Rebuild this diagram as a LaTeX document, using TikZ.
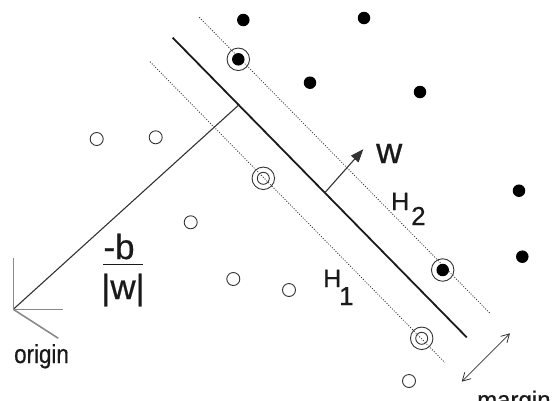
\documentclass[tikz,border=0pt]{standalone}
\usepackage{fontspec}
\setmainfont{Liberation Sans}[FakeBold=0.6]
\usetikzlibrary{arrows.meta}
\definecolor{ink}{HTML}{1A1A1A}
\definecolor{lin}{HTML}{333333}
\definecolor{axis}{HTML}{8A8A8A}
\tikzset{
  fdot/.style={circle,fill=black,inner sep=0pt,minimum size=12.5pt},
  odot/.style={circle,draw=lin,line width=0.9pt,inner sep=0pt,minimum size=13pt},
  ring/.style={circle,draw=lin,line width=0.9pt,inner sep=0pt,minimum size=22.5pt},
  hyper/.style={line width=1.8pt,draw=ink},
  marginline/.style={draw=lin,line width=0.8pt,dash pattern=on 1pt off 1.6pt},
  thinline/.style={draw=lin,line width=1.1pt},
  axisline/.style={draw=axis,line width=1.6pt},
  lbl/.style={inner sep=0pt,text=ink},
}
\begin{document}
\begin{tikzpicture}[x=1pt,y=-1pt]
\useasboundingbox (0,0) rectangle (552,400);
% named coordinates
\coordinate (M1) at (172.7,37.7);
\coordinate (M2) at (466.7,337.3);
\coordinate (H2a) at (199.3,17.3);
\coordinate (H2b) at (490,313.3);
\coordinate (H1a) at (150,61.7);
\coordinate (H1b) at (445,362.7);
\coordinate (O) at (13.3,309.3);
\coordinate (P) at (238.5,105.2);
\coordinate (Oy) at (13.3,258.3);
\coordinate (Ox) at (63.3,309.3);
\coordinate (Od) at (58.3,338.3);
\coordinate (Wa) at (325,192.5);
\coordinate (Wb) at (363.3,149.3);
\coordinate (Ma) at (461.7,381.7);
\coordinate (Mb) at (510,333.3);
% margin lines
\draw[marginline] (H2a) -- (H2b);
\draw[marginline] (H1a) -- (H1b);
% separating hyperplane
\draw[hyper] (M1) -- (M2);
% perpendicular from origin
\draw[thinline] (O) -- (P);
% origin axes
\draw[axisline] (Oy) -- (O) -- (Ox);
\draw[axisline] (O) -- (Od);
% w arrow
\draw[thinline,-{Triangle[length=13pt,width=10pt]}] (Wa) -- (Wb);
% margin arrow
\draw[draw=lin,line width=0.8pt,{Straight Barb[length=8pt,width=9pt]}-{Straight Barb[length=8pt,width=9pt]}] (Ma) -- (Mb);
% filled points
\node[fdot] (f1) at (243.3,20) {};
\node[fdot] (f2) at (364,18) {};
\node[fdot] (f3) at (310,82.7) {};
\node[fdot] (f4) at (420,92) {};
\node[fdot] (f5) at (519,190.7) {};
\node[fdot] (f6) at (522.3,256.7) {};
\node[fdot] (s1) at (238.3,59.3) {};
\node[ring] (s1r) at (238.3,59.3) {};
\node[fdot] (s2) at (442.7,270) {};
\node[ring] (s2r) at (442.7,270) {};
% open points
\node[odot] (o1) at (96.7,139) {};
\node[odot] (o2) at (155.7,137.3) {};
\node[odot] (o3) at (190.7,222.3) {};
\node[odot] (o4) at (233.3,279) {};
\node[odot] (o5) at (289,290) {};
\node[odot] (o6) at (409,381) {};
\node[odot,minimum size=12pt] (s3) at (263.3,178.3) {};
\node[ring] (s3r) at (263.3,178.3) {};
\node[odot,minimum size=12pt] (s4) at (421.7,338.3) {};
\node[ring] (s4r) at (421.7,338.3) {};
% labels
\node[lbl,anchor=base west,font=\fontsize{36}{40}\selectfont] (wl) at (376,163) {w};
\node[lbl,anchor=base west,font=\fontsize{25}{28}\selectfont] (h2) at (391,210) {H};
\node[lbl,anchor=base west,font=\fontsize{26}{28}\selectfont] (h2s) at (411,225) {2};
\node[lbl,anchor=base west,font=\fontsize{25}{28}\selectfont] (h1) at (323,287) {H};
\node[lbl,anchor=base west,font=\fontsize{26}{28}\selectfont] (h1s) at (339,305) {1};
\node[lbl,anchor=base,font=\fontsize{35}{40}\selectfont] (nb) at (119,259) {-b};
\node[lbl,anchor=base,font=\fontsize{35}{40}\selectfont] (dw) at (123,299) {|w|};
\coordinate (fb1) at (103,264.5);
\coordinate (fb2) at (143,264.5);
\draw[draw=ink,line width=1.2pt] (fb1) -- (fb2);
\node[lbl,anchor=base west,font=\fontsize{26}{28}\selectfont,xscale=0.86] (orig) at (14,363) {origin};
\node[lbl,anchor=base west,font=\fontsize{24}{28}\selectfont] (marg) at (477,408) {margin};
\end{tikzpicture}
\end{document}
